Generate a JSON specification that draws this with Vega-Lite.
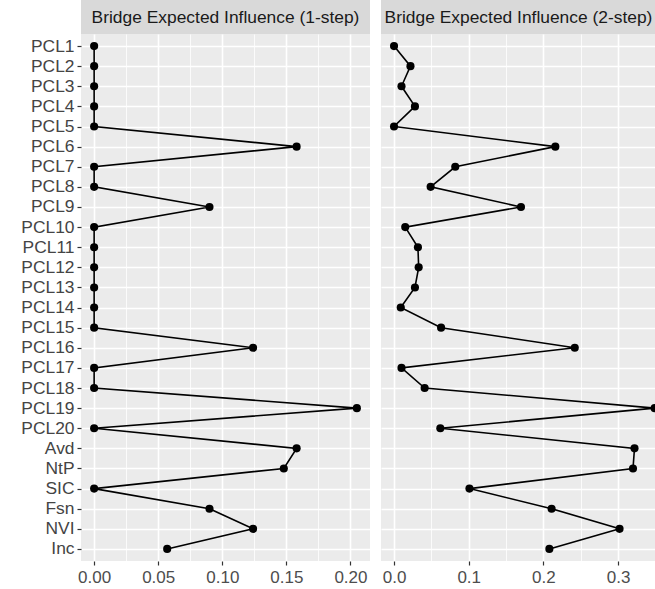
{
  "$schema": "https://vega.github.io/schema/vega-lite/v6.json",
  "padding": {"left": 20, "top": 0, "right": 0, "bottom": 0},
  "background": "white",
  "config": {"font": "Liberation Sans", "view": {"stroke": null}},
  "datasets": {
    "bei": [
      {"idx": 1, "node": "PCL1", "step": "1-step", "value": 0},
      {"idx": 2, "node": "PCL2", "step": "1-step", "value": 0},
      {"idx": 3, "node": "PCL3", "step": "1-step", "value": 0},
      {"idx": 4, "node": "PCL4", "step": "1-step", "value": 0},
      {"idx": 5, "node": "PCL5", "step": "1-step", "value": 0},
      {"idx": 6, "node": "PCL6", "step": "1-step", "value": 0.158},
      {"idx": 7, "node": "PCL7", "step": "1-step", "value": 0},
      {"idx": 8, "node": "PCL8", "step": "1-step", "value": 0},
      {"idx": 9, "node": "PCL9", "step": "1-step", "value": 0.09},
      {"idx": 10, "node": "PCL10", "step": "1-step", "value": 0},
      {"idx": 11, "node": "PCL11", "step": "1-step", "value": 0},
      {"idx": 12, "node": "PCL12", "step": "1-step", "value": 0},
      {"idx": 13, "node": "PCL13", "step": "1-step", "value": 0},
      {"idx": 14, "node": "PCL14", "step": "1-step", "value": 0},
      {"idx": 15, "node": "PCL15", "step": "1-step", "value": 0},
      {"idx": 16, "node": "PCL16", "step": "1-step", "value": 0.124},
      {"idx": 17, "node": "PCL17", "step": "1-step", "value": 0},
      {"idx": 18, "node": "PCL18", "step": "1-step", "value": 0},
      {"idx": 19, "node": "PCL19", "step": "1-step", "value": 0.205},
      {"idx": 20, "node": "PCL20", "step": "1-step", "value": 0},
      {"idx": 21, "node": "Avd", "step": "1-step", "value": 0.158},
      {"idx": 22, "node": "NtP", "step": "1-step", "value": 0.148},
      {"idx": 23, "node": "SIC", "step": "1-step", "value": 0},
      {"idx": 24, "node": "Fsn", "step": "1-step", "value": 0.09},
      {"idx": 25, "node": "NVI", "step": "1-step", "value": 0.124},
      {"idx": 26, "node": "Inc", "step": "1-step", "value": 0.057},
      {"idx": 1, "node": "PCL1", "step": "2-step", "value": 0},
      {"idx": 2, "node": "PCL2", "step": "2-step", "value": 0.022},
      {"idx": 3, "node": "PCL3", "step": "2-step", "value": 0.01},
      {"idx": 4, "node": "PCL4", "step": "2-step", "value": 0.028},
      {"idx": 5, "node": "PCL5", "step": "2-step", "value": 0},
      {"idx": 6, "node": "PCL6", "step": "2-step", "value": 0.216},
      {"idx": 7, "node": "PCL7", "step": "2-step", "value": 0.082},
      {"idx": 8, "node": "PCL8", "step": "2-step", "value": 0.049},
      {"idx": 9, "node": "PCL9", "step": "2-step", "value": 0.17},
      {"idx": 10, "node": "PCL10", "step": "2-step", "value": 0.015},
      {"idx": 11, "node": "PCL11", "step": "2-step", "value": 0.032},
      {"idx": 12, "node": "PCL12", "step": "2-step", "value": 0.033},
      {"idx": 13, "node": "PCL13", "step": "2-step", "value": 0.028},
      {"idx": 14, "node": "PCL14", "step": "2-step", "value": 0.009},
      {"idx": 15, "node": "PCL15", "step": "2-step", "value": 0.063},
      {"idx": 16, "node": "PCL16", "step": "2-step", "value": 0.242},
      {"idx": 17, "node": "PCL17", "step": "2-step", "value": 0.01},
      {"idx": 18, "node": "PCL18", "step": "2-step", "value": 0.041},
      {"idx": 19, "node": "PCL19", "step": "2-step", "value": 0.349},
      {"idx": 20, "node": "PCL20", "step": "2-step", "value": 0.062},
      {"idx": 21, "node": "Avd", "step": "2-step", "value": 0.322},
      {"idx": 22, "node": "NtP", "step": "2-step", "value": 0.32},
      {"idx": 23, "node": "SIC", "step": "2-step", "value": 0.101},
      {"idx": 24, "node": "Fsn", "step": "2-step", "value": 0.211},
      {"idx": 25, "node": "NVI", "step": "2-step", "value": 0.302},
      {"idx": 26, "node": "Inc", "step": "2-step", "value": 0.208}
    ]
  },
  "spacing": 11,
  "hconcat": [
    {
      "spacing": 0,
      "vconcat": [
        {
          "width": 289,
          "height": 34,
          "view": {"fill": "#D9D9D9", "stroke": null},
          "data": {"values": [{"label": "Bridge Expected Influence (1-step)"}]},
          "mark": {"type": "text", "fontSize": 17.4, "color": "#1A1A1A", "baseline": "middle", "align": "center", "dy": 1},
          "encoding": {"text": {"field": "label"}}
        },
        {
          "width": 289,
          "height": 527,
          "view": {"fill": "#EBEBEB", "stroke": null},
          "data": {"name": "bei"},
          "transform": [{"filter": "datum.step == '1-step'"}],
          "encoding": {
            "y": {
              "field": "node",
              "type": "nominal",
              "sort": ["PCL1","PCL2","PCL3","PCL4","PCL5","PCL6","PCL7","PCL8","PCL9","PCL10","PCL11","PCL12","PCL13","PCL14","PCL15","PCL16","PCL17","PCL18","PCL19","PCL20","Avd","NtP","SIC","Fsn","NVI","Inc"],
              "scale": {"type": "point", "padding": 0.6},
              "axis": {"title": null, "grid": true, "gridColor": "white", "gridWidth": 1.6, "domain": false, "tickColor": "#333333", "tickSize": 4, "tickWidth": 1.2, "labelFontSize": 17.4, "labelColor": "#444444", "labelPadding": 3}
            }
          },
          "layer": [
            {
              "mark": {"type": "point", "opacity": 0},
              "encoding": {
                "x": {"field": "value", "type": "quantitative", "scale": {"domain": [-0.01025, 0.21525], "nice": false, "zero": false},
                  "axis": {"orient": "top", "values": [0.025, 0.075, 0.125, 0.175], "labels": false, "ticks": false, "domain": false, "title": null, "grid": true, "gridColor": "white", "gridWidth": 0.8}}
              }
            },
            {
              "encoding": {
                "x": {"field": "value", "type": "quantitative", "scale": {"domain": [-0.01025, 0.21525], "nice": false, "zero": false},
                  "axis": {"orient": "bottom", "title": null, "values": [0, 0.05, 0.1, 0.15, 0.2], "format": ".2f", "grid": true, "gridColor": "white", "gridWidth": 1.6, "domain": false, "tickColor": "#333333", "tickSize": 4, "tickWidth": 1.2, "labelFontSize": 17, "labelColor": "#4D4D4D", "labelPadding": 4}}
              },
              "layer": [
                {"mark": {"type": "line", "color": "black", "strokeWidth": 1.6}, "encoding": {"order": {"field": "idx", "type": "quantitative"}}},
                {"mark": {"type": "point", "filled": true, "color": "black", "size": 66, "opacity": 1}}
              ]
            }
          ],
          "resolve": {"axis": {"x": "independent"}}
        }
      ]
    },
    {
      "spacing": 0,
      "vconcat": [
        {
          "width": 275,
          "height": 34,
          "view": {"fill": "#D9D9D9", "stroke": null},
          "data": {"values": [{"label": "Bridge Expected Influence (2-step)"}]},
          "mark": {"type": "text", "fontSize": 17.4, "color": "#1A1A1A", "baseline": "middle", "align": "center", "dy": 1},
          "encoding": {"text": {"field": "label"}}
        },
        {
          "width": 275,
          "height": 527,
          "view": {"fill": "#EBEBEB", "stroke": null},
          "data": {"name": "bei"},
          "transform": [{"filter": "datum.step == '2-step'"}],
          "encoding": {
            "y": {
              "field": "node",
              "type": "nominal",
              "sort": ["PCL1","PCL2","PCL3","PCL4","PCL5","PCL6","PCL7","PCL8","PCL9","PCL10","PCL11","PCL12","PCL13","PCL14","PCL15","PCL16","PCL17","PCL18","PCL19","PCL20","Avd","NtP","SIC","Fsn","NVI","Inc"],
              "scale": {"type": "point", "padding": 0.6},
              "axis": {"title": null, "grid": true, "gridColor": "white", "gridWidth": 1.6, "domain": false, "ticks": false, "labels": false, "minExtent": 0, "maxExtent": 0}
            }
          },
          "layer": [
            {
              "mark": {"type": "point", "opacity": 0},
              "encoding": {
                "x": {"field": "value", "type": "quantitative", "scale": {"domain": [-0.01745, 0.3508], "nice": false, "zero": false},
                  "axis": {"orient": "top", "values": [0.05, 0.15, 0.25, 0.35], "labels": false, "ticks": false, "domain": false, "title": null, "grid": true, "gridColor": "white", "gridWidth": 0.8}}
              }
            },
            {
              "encoding": {
                "x": {"field": "value", "type": "quantitative", "scale": {"domain": [-0.01745, 0.3508], "nice": false, "zero": false},
                  "axis": {"orient": "bottom", "title": null, "values": [0, 0.1, 0.2, 0.3], "format": ".1f", "grid": true, "gridColor": "white", "gridWidth": 1.6, "domain": false, "tickColor": "#333333", "tickSize": 4, "tickWidth": 1.2, "labelFontSize": 17, "labelColor": "#4D4D4D", "labelPadding": 4}}
              },
              "layer": [
                {"mark": {"type": "line", "color": "black", "strokeWidth": 1.6}, "encoding": {"order": {"field": "idx", "type": "quantitative"}}},
                {"mark": {"type": "point", "filled": true, "color": "black", "size": 66, "opacity": 1}}
              ]
            }
          ],
          "resolve": {"axis": {"x": "independent"}}
        }
      ]
    }
  ]
}
